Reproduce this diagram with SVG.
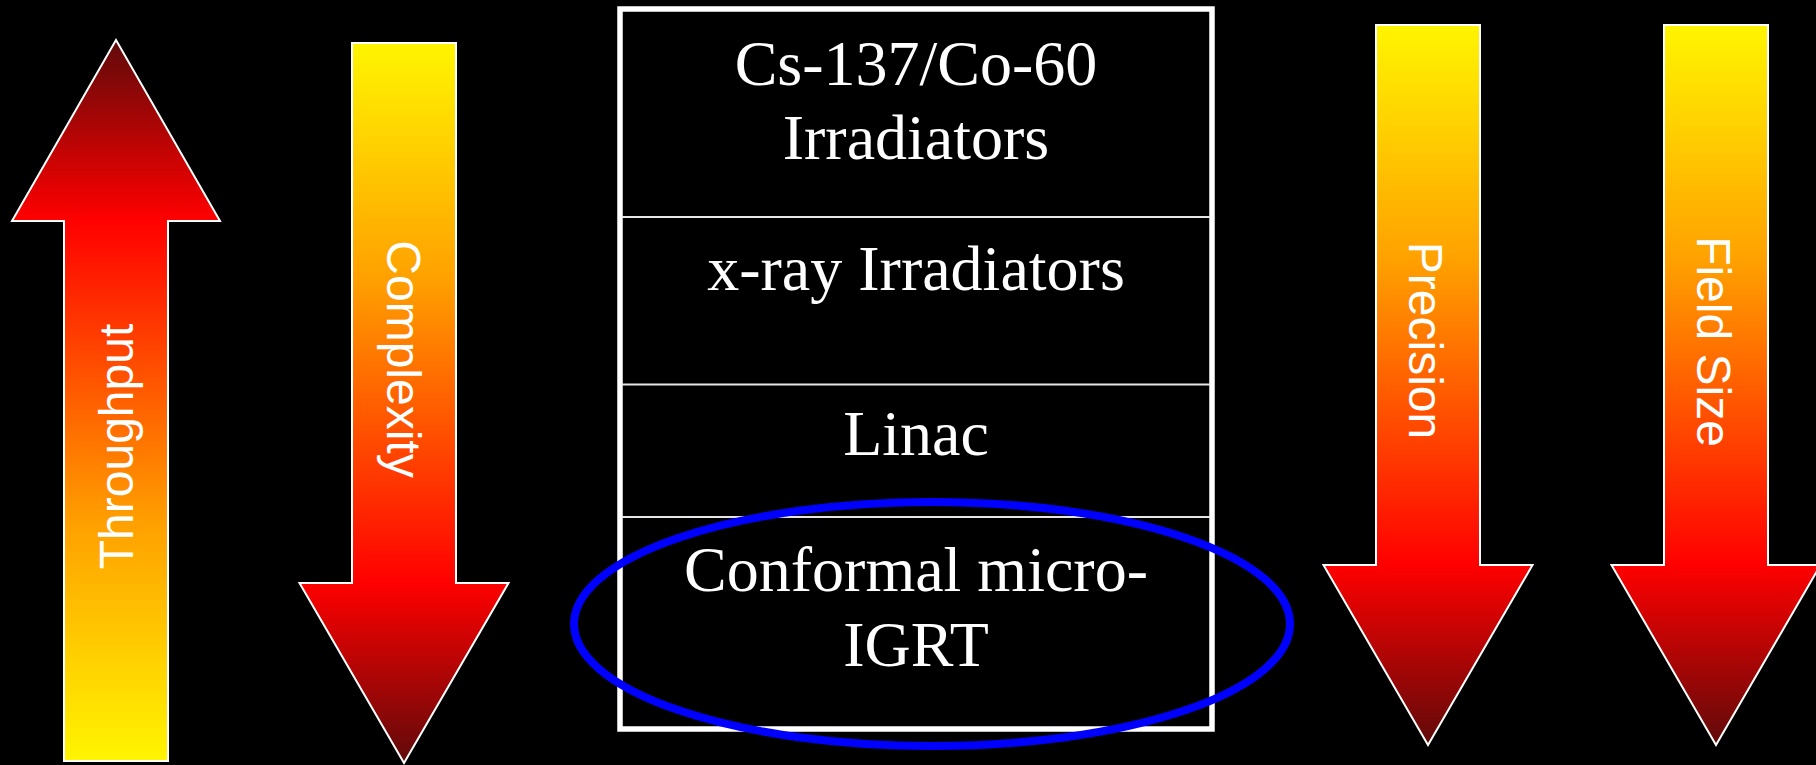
<svg xmlns="http://www.w3.org/2000/svg" width="1816" height="765" viewBox="0 0 1816 765">
<style>
.arrow{stroke:#ffffff;stroke-width:2;}
.lbl{font-family:"Liberation Sans",Arial,sans-serif;font-size:48px;fill:#ffffff;}
.cell{font-family:"Liberation Serif","Times New Roman",serif;font-size:64px;fill:#ffffff;text-anchor:middle;}
.div{stroke:#e6e6e6;stroke-width:2;}
</style>
<defs>
<linearGradient id="gUp" gradientUnits="userSpaceOnUse" x1="0" y1="761" x2="0" y2="40">
<stop offset="0" stop-color="#FFF500"/>
<stop offset="0.33" stop-color="#FFA000"/>
<stop offset="0.75" stop-color="#FF0000"/>
<stop offset="1" stop-color="#600A0A"/>
</linearGradient>
<linearGradient id="gDown1" gradientUnits="userSpaceOnUse" x1="0" y1="43" x2="0" y2="763">
<stop offset="0" stop-color="#FFF500"/>
<stop offset="0.33" stop-color="#FFA000"/>
<stop offset="0.75" stop-color="#FF0000"/>
<stop offset="1" stop-color="#600A0A"/>
</linearGradient>
<linearGradient id="gDown2" gradientUnits="userSpaceOnUse" x1="0" y1="25" x2="0" y2="745">
<stop offset="0" stop-color="#FFF500"/>
<stop offset="0.33" stop-color="#FFA000"/>
<stop offset="0.75" stop-color="#FF0000"/>
<stop offset="1" stop-color="#600A0A"/>
</linearGradient>
</defs>
<rect x="0" y="0" width="1816" height="765" fill="#000000"/>

<g id="throughput">
<path class="arrow" fill="url(#gUp)" d="M116,40 L220,221 L168,221 L168,761 L64,761 L64,221 L12,221 Z"/>
<text class="lbl" text-anchor="middle" transform="translate(133,446.5) rotate(-90)">Throughput</text>
</g>

<g id="complexity">
<path class="arrow" fill="url(#gDown1)" d="M352,43 L456,43 L456,583 L508.5,583 L404,763 L299.5,583 L352,583 Z"/>
<text class="lbl" text-anchor="middle" transform="translate(387,359) rotate(90)">Complexity</text>
</g>

<g id="precision">
<path class="arrow" fill="url(#gDown2)" d="M1376,25 L1480,25 L1480,565 L1532.5,565 L1428,745 L1323.5,565 L1376,565 Z"/>
<text class="lbl" text-anchor="middle" transform="translate(1409,340.5) rotate(90)">Precision</text>
</g>

<g id="fieldsize">
<path class="arrow" fill="url(#gDown2)" d="M1664,25 L1768,25 L1768,565 L1820.5,565 L1716,745 L1611.5,565 L1664,565 Z"/>
<text class="lbl" text-anchor="middle" transform="translate(1697,341.5) rotate(90)">Field Size</text>
</g>

<g id="table">
<rect x="620" y="9" width="592" height="720" fill="#000000" stroke="#ffffff" stroke-width="5.5"/>
<line class="div" x1="622" y1="217" x2="1210" y2="217"/>
<line class="div" x1="622" y1="384.5" x2="1210" y2="384.5"/>
<line class="div" x1="622" y1="517" x2="1210" y2="517"/>
</g>

<g id="row-cs">
<text class="cell" x="916" y="84.5">Cs-137/Co-60</text>
<text class="cell" x="916" y="158.5">Irradiators</text>
</g>
<g id="row-xray">
<text class="cell" x="916" y="289.5">x-ray Irradiators</text>
</g>
<g id="row-linac">
<text class="cell" x="916" y="455">Linac</text>
</g>
<g id="row-igrt">
<text class="cell" x="916" y="590.5">Conformal micro-</text>
<text class="cell" x="916" y="666">IGRT</text>
</g>

<g id="highlight">
<ellipse cx="932" cy="624" rx="358" ry="122" fill="none" stroke="#0000FF" stroke-width="8"/>
</g>
</svg>
